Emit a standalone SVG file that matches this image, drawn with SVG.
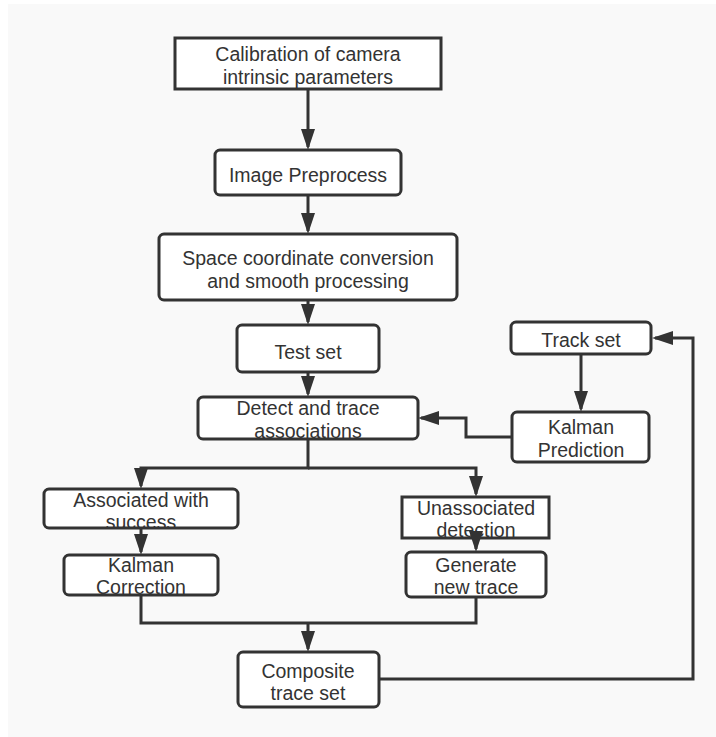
<svg xmlns="http://www.w3.org/2000/svg" width="716" height="737" viewBox="0 0 716 737">
<style>
.box{fill:#ffffff;stroke:#333333;stroke-width:3}
.t{font-family:"Liberation Sans",Arial,sans-serif;font-size:19.5px;fill:#333333;text-anchor:middle}
.c{fill:none;stroke:#333333;stroke-width:3}
</style>
<defs>
<marker id="ah" viewBox="0 0 21 14" refX="18" refY="7" markerWidth="21" markerHeight="14" markerUnits="userSpaceOnUse" orient="auto">
<path d="M0,0 L21,7 L0,14 z" fill="#333333"/>
</marker>
</defs>
<rect x="0" y="0" width="716" height="737" fill="#ffffff"/>
<rect x="8" y="4" width="708" height="733" fill="#f9f9f9"/>
<g id="n-calibration"><rect class="box" x="175" y="38" width="266" height="51"/><text class="t" x="308" y="61">Calibration of camera</text><text class="t" x="308" y="84">intrinsic parameters</text></g>
<g id="n-preprocess"><rect class="box" x="215" y="150" width="186" height="45" rx="5"/><text class="t" x="308" y="182">Image Preprocess</text></g>
<g id="n-space"><rect class="box" x="159" y="234" width="298" height="66" rx="5"/><text class="t" x="308" y="265">Space coordinate conversion</text><text class="t" x="308" y="287.5">and smooth processing</text></g>
<g id="n-testset"><rect class="box" x="237" y="325" width="142" height="47" rx="5"/><text class="t" x="308" y="359">Test set</text></g>
<g id="n-trackset"><rect class="box" x="511" y="322" width="140" height="32" rx="5"/><text class="t" x="581" y="347">Track set</text></g>
<g id="n-detect"><rect class="box" x="198" y="397" width="220" height="42" rx="5"/><text class="t" x="308" y="415">Detect and trace</text><text class="t" x="308" y="437.5">associations</text></g>
<g id="n-kpred"><rect class="box" x="512" y="412" width="137" height="50" rx="5"/><text class="t" x="581" y="434">Kalman</text><text class="t" x="581" y="456.5">Prediction</text></g>
<g id="n-assoc"><rect class="box" x="44" y="489" width="194" height="39" rx="5"/><text class="t" x="141" y="506.5">Associated with</text><text class="t" x="141" y="529">success</text></g>
<g id="n-unassoc"><rect class="box" x="402" y="497" width="147" height="41"/><text class="t" x="476" y="514.5">Unassociated</text><text class="t" x="476" y="537">detection</text></g>
<g id="n-kcorr"><rect class="box" x="64" y="555" width="154" height="40" rx="5"/><text class="t" x="141" y="571.5">Kalman</text><text class="t" x="141" y="594">Correction</text></g>
<g id="n-generate"><rect class="box" x="406" y="552" width="140" height="45" rx="5"/><text class="t" x="476" y="571.5">Generate</text><text class="t" x="476" y="594">new trace</text></g>
<g id="n-composite"><rect class="box" x="238" y="652" width="141" height="55" rx="5"/><text class="t" x="308" y="677.5">Composite</text><text class="t" x="308" y="700">trace set</text></g>
<g id="connectors">
<path class="c" d="M308,89 V147" marker-end="url(#ah)"/>
<path class="c" d="M308,195 V231" marker-end="url(#ah)"/>
<path class="c" d="M308,300 V322" marker-end="url(#ah)"/>
<path class="c" d="M308,372 V394" marker-end="url(#ah)"/>
<path class="c" d="M581,354 V409" marker-end="url(#ah)"/>
<path class="c" d="M512,437 H466 V418 H421" marker-end="url(#ah)"/>
<path class="c" d="M308,439 V468 H141 V486" marker-end="url(#ah)"/>
<path class="c" d="M308,468 H476 V494" marker-end="url(#ah)"/>
<path class="c" d="M141,528 V552" marker-end="url(#ah)"/>
<path class="c" d="M476,538 V549" marker-end="url(#ah)"/>
<path class="c" d="M141,595 V623 H476 V597"/>
<path class="c" d="M308,623 V649" marker-end="url(#ah)"/>
<path class="c" d="M379,679 H693 V338 H655" marker-end="url(#ah)"/>
</g>
</svg>
